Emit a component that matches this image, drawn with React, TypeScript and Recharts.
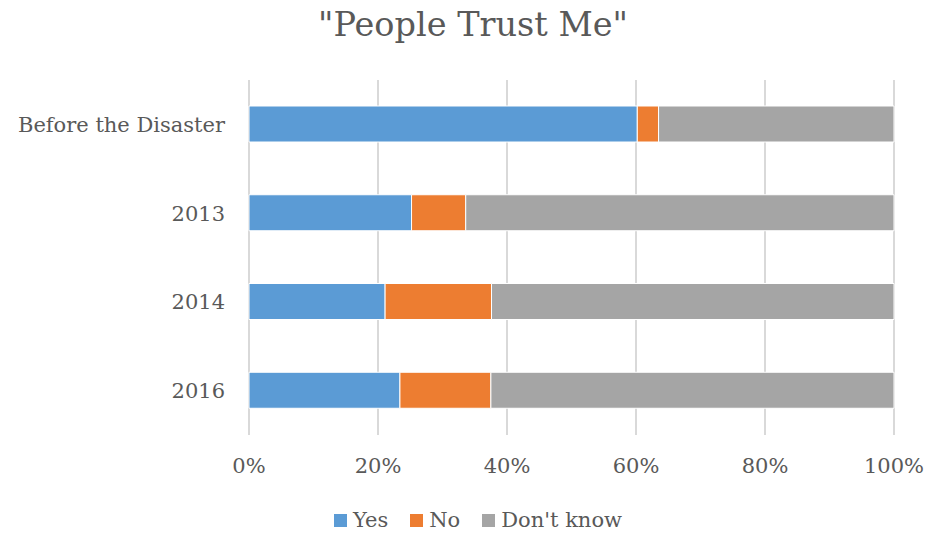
import React from "react";
import { BarChart, Bar, XAxis, YAxis, CartesianGrid, Legend } from "recharts";

const categories = ["Before the Disaster", "2013", "2014", "2016"];
const yesValues = [60.2, 25.2, 21.1, 23.4];
const noValues = [3.3, 8.4, 16.5, 14.1];
const dontKnowValues = [36.5, 66.4, 62.4, 62.5];
const xTicks = [0, 20, 40, 60, 80, 100];

const seriesNames = ["Yes", "No", "Don't know"];
const seriesColors = ["#5B9BD5", "#ED7D31", "#A5A5A5"];

const data = categories.map((c, i) => ({
  name: c,
  yes: yesValues[i],
  no: noValues[i],
  dk: dontKnowValues[i],
}));

const FONT = "'DejaVu Serif', serif";
const TEXT = "#595959";

const LegendContent = () => (
  <div
    style={{
      display: "flex",
      justifyContent: "center",
      alignItems: "center",
      fontFamily: FONT,
      fontSize: 21,
      color: TEXT,
      height: 40,
      boxSizing: "border-box",
      paddingTop: 8,
      paddingLeft: 62,
    }}
  >
    {seriesNames.map((n, i) => (
      <div key={n} style={{ display: "flex", alignItems: "center", marginRight: i < seriesNames.length - 1 ? 22 : 0 }}>
        <span style={{ display: "inline-block", width: 13, height: 13, background: seriesColors[i], marginRight: 6 }} />
        <span>{n}</span>
      </div>
    ))}
  </div>
);

export default function App() {
  return (
    <div style={{ position: "absolute", left: 0, top: 0, width: 930, height: 537, background: "#fff" }}>
      <div
        style={{
          position: "absolute",
          left: 0,
          top: 3,
          width: 946,
          textAlign: "center",
          fontFamily: FONT,
          fontSize: 33.5,
          color: TEXT,
          lineHeight: "44px",
          whiteSpace: "nowrap",
        }}
      >
        "People Trust Me"
      </div>
      <BarChart
        width={930}
        height={537}
        data={data}
        layout="vertical"
        margin={{ top: 80, right: 36, bottom: 1, left: 0 }}
        barSize={36}
      >
        <CartesianGrid horizontal={false} stroke="#d9d9d9" strokeWidth={2} />
        <XAxis
          type="number"
          domain={[0, 100]}
          ticks={xTicks}
          tickFormatter={(v: number) => `${v}%`}
          axisLine={false}
          tickLine={false}
          tickSize={0}
          tickMargin={23}
          height={61}
          tick={{ fill: TEXT, fontFamily: FONT, fontSize: 21 }}
          interval={0}
        />
        <YAxis
          type="category"
          dataKey="name"
          width={249}
          axisLine={false}
          tickLine={false}
          tickSize={0}
          tickMargin={24}
          tick={{ fill: TEXT, fontFamily: FONT, fontSize: 21 }}
        />
        <Legend verticalAlign="bottom" height={40} content={LegendContent} />
        <Bar dataKey="yes" name={seriesNames[0]} stackId="a" fill={seriesColors[0]} stroke="#ffffff" strokeWidth={1} isAnimationActive={false} />
        <Bar dataKey="no" name={seriesNames[1]} stackId="a" fill={seriesColors[1]} stroke="#ffffff" strokeWidth={1} isAnimationActive={false} />
        <Bar dataKey="dk" name={seriesNames[2]} stackId="a" fill={seriesColors[2]} stroke="#ffffff" strokeWidth={1} isAnimationActive={false} />
      </BarChart>
    </div>
  );
}
